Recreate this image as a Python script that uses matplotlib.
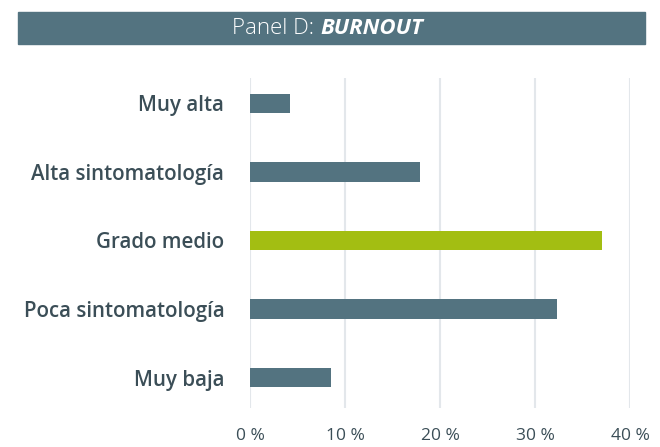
import matplotlib
matplotlib.use("Agg")
import matplotlib.pyplot as plt
from matplotlib.patches import Rectangle

# Panel D: BURNOUT - distribution of burnout levels (%)
categories = ["Muy alta", "Alta sintomatología", "Grado medio", "Poca sintomatología", "Muy baja"]
values = [4.2, 17.9, 37.0, 32.3, 8.5]
highlight = "Grado medio"
xticks = [0, 10, 20, 30, 40]
xtick_labels = ["0 %", "10 %", "20 %", "30 %", "40 %"]

slate = "#537380"
green = "#A3BE12"
text_col = "#3B4E57"
grid_col = "#E3E7EB"

plt.rcParams['font.family'] = ['Open Sans', 'DejaVu Sans']

fig = plt.figure(figsize=(6.6, 4.47), dpi=100)
ax = fig.add_axes([250 / 660, 1 - 408 / 447, 380 / 660, 330 / 447])

ypos = list(range(len(categories) - 1, -1, -1))
colors = [green if c == highlight else slate for c in categories]
ax.barh(ypos, values, height=0.28, color=colors, zorder=3)

ax.set_xlim(0, 40)
ax.set_ylim(-0.445, len(categories) - 1 + 0.372)
ax.set_xticks(xticks)
ax.set_xticklabels(xtick_labels, fontsize=12.5, color=text_col)
ax.set_yticks(ypos)
ax.set_yticklabels(categories, fontsize=14.8, fontweight="semibold", color=text_col)
ax.tick_params(axis="x", length=0, pad=14.5)
ax.tick_params(axis="y", length=0, pad=18.5)
ax.grid(axis="x", color=grid_col, linewidth=1.5, zorder=0)
for s in ax.spines.values():
    s.set_visible(False)

# title banner
fig.patches.append(Rectangle((18 / 660, 1 - 44 / 447), 627 / 660, 32 / 447,
                             transform=fig.transFigure, color=slate, zorder=0))
fig.text(320 / 660, 1 - 28 / 447, "Panel D: ", ha="right", va="center",
         fontsize=16, color="white", fontweight="light")
fig.text(320 / 660, 1 - 28 / 447, "BURNOUT", ha="left", va="center",
         fontsize=16, color="white", fontweight="bold", style="italic")

fig.savefig("out.png", dpi=100, facecolor="white")
